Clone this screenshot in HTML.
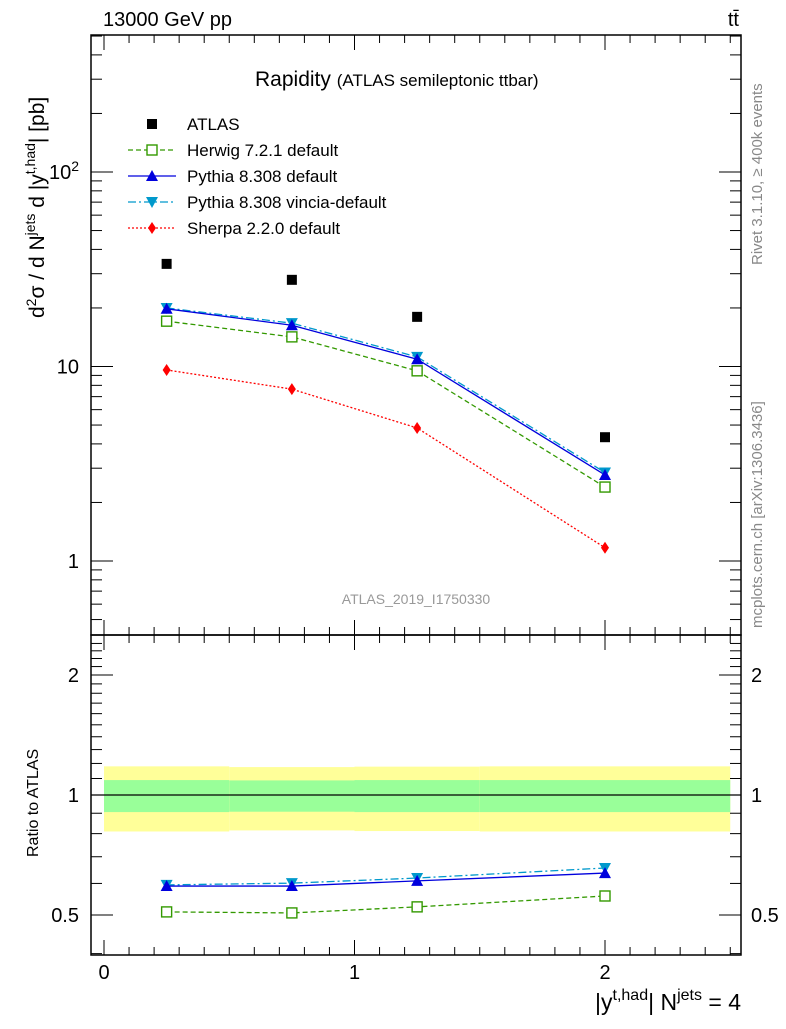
<!DOCTYPE html>
<html><head><meta charset="utf-8"><style>
body{margin:0;background:#fff;}
svg text{font-family:"Liberation Sans",sans-serif;}
</style></head><body>
<svg id="c" width="786" height="1024" viewBox="0 0 786 1024" xmlns="http://www.w3.org/2000/svg"></svg>
<script>
const xs=[0.25,0.75,1.25,2.0];
const atlas=[33.7,27.9,18.0,4.33];
const herwig=[17.1,14.2,9.5,2.4];
const pythia=[19.8,16.3,10.9,2.77];
const vincia=[20.0,16.7,11.2,2.85];
const sherpa=[9.6,7.65,4.83,1.17];
const rHerwig=[0.509,0.506,0.524,0.558];
const rPythia=[0.591,0.591,0.609,0.637];
const rVincia=[0.595,0.601,0.619,0.656];
const binEdges=[0,0.5,1,1.5,2.5];
const bandYellowHi=[1.18,1.175,1.178,1.18];
const bandYellowLo=[0.81,0.815,0.812,0.81];
const bandGreenHi=[1.09,1.088,1.09,1.09];
const bandGreenLo=[0.906,0.908,0.906,0.906];
const xTicks=[0,1,2];
const yTicks=[1,10,100];
const yTickLabels=["1","10","10²"];
const rTicks=[0.5,1,2];

const S=document.getElementById('c');const NS='http://www.w3.org/2000/svg';
function el(t,a,p){const e=document.createElementNS(NS,t);for(const k in a)e.setAttribute(k,a[k]);(p||S).appendChild(e);return e;}
const L=91,R=741,T=35,M=635,B=955;
const X=v=>104+(v-0)*250.5;
const Y=v=>172-(Math.log10(v)-2)*194.5;
const RY=v=>795-Math.log10(v)*398.6;

for(let i=0;i<4;i++){
 const b=el('rect',{x:X(binEdges[i]),y:RY(bandYellowHi[i]),width:X(binEdges[i+1])-X(binEdges[i]),height:RY(bandYellowLo[i])-RY(bandYellowHi[i]),fill:'#ffff99'});
 
 const g=el('rect',{x:X(binEdges[i]),y:RY(bandGreenHi[i]),width:X(binEdges[i+1])-X(binEdges[i]),height:RY(bandGreenLo[i])-RY(bandGreenHi[i]),fill:'#99ff99'});
 
}
el('line',{x1:L,x2:R,y1:RY(1),y2:RY(1),stroke:'#000','stroke-width':1.2});

el('rect',{x:L,y:T,width:R-L,height:M-T,fill:'none',stroke:'#000','stroke-width':1.5});
el('rect',{x:L,y:M,width:R-L,height:B-M,fill:'none',stroke:'#000','stroke-width':1.5});

for(let v=0;v<=2.5001;v+=0.1){
 const x=X(v);if(x<L||x>R)continue;const maj=Math.abs(v-Math.round(v))<1e-6;const l=maj?15:8;
 for(const [y0,d] of [[T,1],[M,-1],[M,1],[B,-1]]) el('line',{x1:x,x2:x,y1:y0,y2:y0+d*l,stroke:'#000'});
}
xTicks.forEach(v=>{const t=el('text',{x:X(v),y:979,'font-size':20,'text-anchor':'middle'});t.textContent=v;});

for(let d=-1;d<=2;d++)for(let m=1;m<=9;m++){const v=m*Math.pow(10,d);const y=Y(v);if(y<T||y>M)continue;const l=m==1?22:11;
 el('line',{x1:L,x2:L+l,y1:y,y2:y,stroke:'#000'});el('line',{x1:R,x2:R-l,y1:y,y2:y,stroke:'#000'});}
yTicks.forEach((v,i)=>{const t=el('text',{x:79,y:Y(v)+7,'font-size':20,'text-anchor':'end'});t.textContent=i==2?'10':yTickLabels[i];
 if(i==2){const s=el('tspan',{dy:-8,'font-size':14},t);s.textContent='2';}
 });
for(let v=0.4;v<=2.5;v+=0.1){const y=RY(v);if(y<M||y>B)continue;const maj=rTicks.some(r=>Math.abs(r-v)<1e-6);const l=maj?22:11;
 el('line',{x1:L,x2:L+l,y1:y,y2:y,stroke:'#000'});el('line',{x1:R,x2:R-l,y1:y,y2:y,stroke:'#000'});}
rTicks.forEach(v=>{for(const [x,a] of [[79,'end'],[751,'start']]){const t=el('text',{x:x,y:RY(v)+7,'font-size':20,'text-anchor':a});t.textContent=v;}});

function line(vals,fy,color,dash,name){const p=el('polyline',{points:xs.map((x,i)=>X(x)+','+fy(vals[i])).join(' '),fill:'none',stroke:color,'stroke-width':1.3,'stroke-dasharray':dash});}
function mark(type,x,y,color){
 if(type=='sq')el('rect',{x:x-5,y:y-5,width:10,height:10,fill:'#000'});
 else if(type=='osq')el('rect',{x:x-5,y:y-5,width:10,height:10,fill:'#fff',stroke:color,'stroke-width':1.4});
 else if(type=='up')el('polygon',{points:`${x-6},${y+5} ${x+6},${y+5} ${x},${y-6}`,fill:color});
 else if(type=='dn')el('polygon',{points:`${x-6},${y-5} ${x+6},${y-5} ${x},${y+6}`,fill:color});
 else el('polygon',{points:`${x},${y-6} ${x+4},${y} ${x},${y+6} ${x-4},${y}`,fill:color});
}
const G='#339900',BL='#0000dd',CY='#0099cc',RD='#ff0000';
line(sherpa,Y,RD,'2,2','sherpa-line');line(herwig,Y,G,'5,3','herwig-line');line(vincia,Y,CY,'8,3,2,3','vincia-line');line(pythia,Y,BL,'','pythia-line');
xs.forEach((x,i)=>{mark('sq',X(x),Y(atlas[i]));mark('dm',X(x),Y(sherpa[i]),RD);mark('osq',X(x),Y(herwig[i]),G);mark('dn',X(x),Y(vincia[i]),CY);mark('up',X(x),Y(pythia[i]),BL);});
line(rHerwig,RY,G,'5,3','ratio-herwig-line');line(rVincia,RY,CY,'8,3,2,3','ratio-vincia-line');line(rPythia,RY,BL,'','ratio-pythia-line');
xs.forEach((x,i)=>{mark('osq',X(x),RY(rHerwig[i]),G);mark('dn',X(x),RY(rVincia[i]),CY);mark('up',X(x),RY(rPythia[i]),BL);});

const leg=[['sq','ATLAS','#000',null],['osq','Herwig 7.2.1 default',G,'5,3'],['up','Pythia 8.308 default',BL,''],['dn','Pythia 8.308 vincia-default',CY,'8,3,2,3'],['dm','Sherpa 2.2.0 default',RD,'2,2']];
leg.forEach((e,i)=>{const y=124+i*26;
 if(e[3]!==null)el('line',{x1:128,x2:176,y1:y,y2:y,stroke:e[2],'stroke-width':1.3,'stroke-dasharray':e[3]});
 mark(e[0],152,y,e[2]);const t=el('text',{x:187,y:y+6,'font-size':17});t.textContent=e[1];});
</script>
<svg width="786" height="1024" style="position:absolute;left:0;top:0" xmlns="http://www.w3.org/2000/svg">
<text x="103" y="26" font-size="20" font-family="Liberation Sans">13000 GeV pp</text>
<text x="739" y="26" font-size="20" text-anchor="end" font-family="Liberation Sans">tt̄</text>
<text x="255" y="86" font-size="21" font-family="Liberation Sans">Rapidity <tspan font-size="17">(ATLAS semileptonic ttbar)</tspan></text>
<text x="416" y="604" font-size="14" fill="#999" text-anchor="middle" font-family="Liberation Sans">ATLAS_2019_I1750330</text>
<text transform="translate(762,265) rotate(-90)" font-size="15" fill="#888" font-family="Liberation Sans">Rivet 3.1.10, ≥ 400k events</text>
<text transform="translate(762,628) rotate(-90)" font-size="15" fill="#888" font-family="Liberation Sans">mcplots.cern.ch [arXiv:1306.3436]</text>
<text transform="translate(44,318) rotate(-90)" font-size="21" font-family="Liberation Sans">d<tspan dy="-8" font-size="14">2</tspan><tspan dy="8">σ / d N</tspan><tspan dy="-9" font-size="14">jets</tspan><tspan dy="9"> d |y</tspan><tspan dy="-9" font-size="14">t,had</tspan><tspan dy="9">| [pb]</tspan></text>
<text transform="translate(38,857) rotate(-90)" font-size="16" font-family="Liberation Sans">Ratio to ATLAS</text>
<text x="741" y="1010" font-size="23" text-anchor="end" font-family="Liberation Sans">|y<tspan dy="-10" font-size="16">t,had</tspan><tspan dy="10">| N</tspan><tspan dy="-10" font-size="16">jets</tspan><tspan dy="10"> = 4</tspan></text>
</svg>
</body></html>
